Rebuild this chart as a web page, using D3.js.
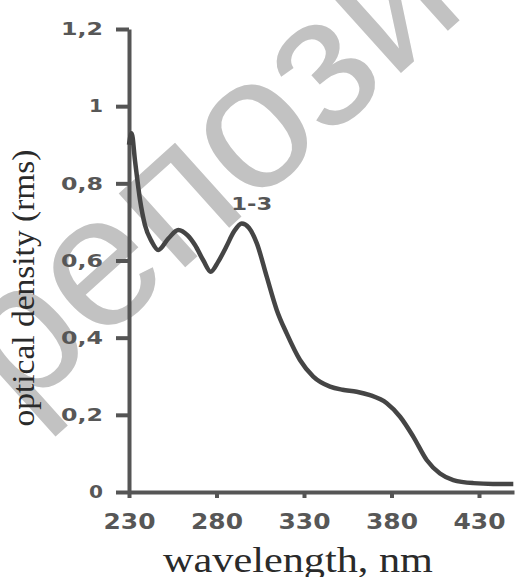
<!doctype html>
<html lang="en">
  <head>
    <meta charset="utf-8">
    <script src="https://cdn.jsdelivr.net/npm/d3@7"></script>
    <style>
      body {margin:0; background:#fff}
      svg {display:block}
      .tick text {font-family:"DejaVu Sans", Verdana, sans-serif; font-weight:bold; fill:#575757}
      .domain, .tick line {stroke:#555; stroke-width:4}
    </style>
  </head>
  <body>
    <script>
      // spectrum (curves 1-3 overlap)
      let wavelength = [230, 231.5, 233.4, 236.3, 239.1, 243, 246.7, 252.5, 258.2, 263.5, 267.7, 272.5, 276.7, 281, 285.5, 290, 294.4, 298.5, 303, 308.7, 314.4, 320.1, 327.7, 335.3, 344.9, 352, 360.1, 367.7, 377.3, 384.9, 392.5, 400.1, 407.7, 415.3, 426.7, 438, 449.6];
      let density = [0.9, 0.93, 0.86, 0.757, 0.692, 0.649, 0.627, 0.657, 0.679, 0.665, 0.64, 0.6, 0.571, 0.597, 0.635, 0.675, 0.696, 0.685, 0.645, 0.558, 0.472, 0.411, 0.342, 0.299, 0.273, 0.265, 0.26, 0.251, 0.23, 0.195, 0.143, 0.083, 0.048, 0.031, 0.023, 0.021, 0.021];
      let xTicks = [230, 280, 330, 380, 430];
      let yTicks = [0, 0.2, 0.4, 0.6, 0.8, 1, 1.2];
      let yTickLabels = ["0", "0,2", "0,4", "0,6", "0,8", "1", "1,2"];
      let curveLabel = "1-3";

      let svg = d3.select("body").append("svg")
        .attr("width", 529)
        .attr("height", 577);

      // watermark, sits under the chart
      svg.append("text")
        .attr("transform", "translate(20,416) rotate(-42)")
        .attr("font-family", "'Liberation Sans', Arial, sans-serif")
        .attr("font-size", 188)
        .attr("fill", "#c2c2c2")
        .text("репозиторий");

      let x = d3.scaleLinear().domain([230, 450]).range([129, 514]);
      let y = d3.scaleLinear().domain([0, 1.2]).range([492, 29]);

      let yAxis = d3.axisLeft(y)
        .tickValues(yTicks)
        .tickSize(13)
        .tickSizeOuter(0)
        .tickPadding(13)
        .tickFormat((d, i) => yTickLabels[i]);

      let xAxis = d3.axisBottom(x)
        .tickValues(xTicks)
        .tickSize(6)
        .tickSizeOuter(0)
        .tickPadding(16)
        .tickFormat(d => d);

      let gy = svg.append("g")
        .attr("transform", "translate(" + x(230) + ",0)")
        .call(yAxis);
      gy.selectAll(".tick text")
        .attr("font-size", 18)
        .attr("lengthAdjust", "spacingAndGlyphs")
        .attr("textLength", (d, i) => yTickLabels[i].length > 1 ? 42 : 14);

      let gx = svg.append("g")
        .attr("transform", "translate(0," + y(0) + ")")
        .call(xAxis);
      gx.selectAll(".tick text")
        .attr("font-size", 21)
        .attr("lengthAdjust", "spacingAndGlyphs")
        .attr("textLength", 52);

      let pts = wavelength.map((w, i) => [w, density[i]]);
      let line = d3.line()
        .x(d => x(d[0]))
        .y(d => y(d[1]))
        .curve(d3.curveMonotoneX);

      svg.append("path")
        .datum(pts)
        .attr("d", line)
        .attr("fill", "none")
        .attr("stroke", "#454545")
        .attr("stroke-width", 4.5)
        .attr("stroke-linejoin", "round");

      // label over the main peak
      svg.append("text")
        .attr("x", x(294.4) + 10)
        .attr("y", y(0.696) - 13)
        .attr("text-anchor", "middle")
        .attr("font-family", "'DejaVu Sans', Verdana, sans-serif")
        .attr("font-weight", "bold")
        .attr("font-size", 17)
        .attr("fill", "#555")
        .attr("lengthAdjust", "spacingAndGlyphs")
        .attr("textLength", 41)
        .text(curveLabel);

      svg.append("text")
        .attr("transform", "translate(34,288) rotate(-90)")
        .attr("text-anchor", "middle")
        .attr("font-family", "'Liberation Serif', 'Times New Roman', serif")
        .attr("font-size", 31)
        .attr("fill", "#2a2a2a")
        .attr("lengthAdjust", "spacingAndGlyphs")
        .attr("textLength", 277)
        .text("optical density (rms)");

      svg.append("text")
        .attr("x", 298)
        .attr("y", 572)
        .attr("text-anchor", "middle")
        .attr("font-family", "'Liberation Serif', 'Times New Roman', serif")
        .attr("font-size", 36)
        .attr("fill", "#2a2a2a")
        .attr("lengthAdjust", "spacingAndGlyphs")
        .attr("textLength", 270)
        .text("wavelength, nm");
    </script>
  </body>
</html>
